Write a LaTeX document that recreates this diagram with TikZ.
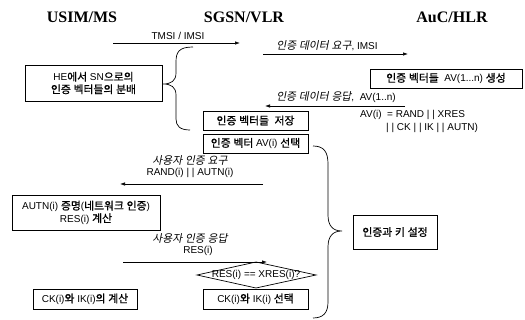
\documentclass[tikz,border=0pt]{standalone}
\usepackage{fontspec}
\setmainfont{Liberation Serif}
\newfontfamily\lat{Liberation Sans}
\newfontfamily\kr[Scale=1.08,FakeBold=1.0]{Noto Sans CJK KR}
\newfontfamily\krit[Scale=1.08,FakeSlant=0.2]{Noto Sans CJK KR}
\newcommand\krsel{\kr}
\XeTeXinterchartokenstate=1
\newXeTeXintercharclass\hgclass
\count255="AC00
\loop\ifnum\count255<"D7A4 \XeTeXcharclass\count255=\hgclass \advance\count255 by 1 \repeat
\XeTeXinterchartoks 0 \hgclass={\krsel}
\XeTeXinterchartoks 4095 \hgclass={\krsel}
\XeTeXinterchartoks \hgclass 0={\lat}
\XeTeXinterchartoks \hgclass 4095={\lat}
\usetikzlibrary{arrows.meta}
\begin{document}
\begin{tikzpicture}[x=1pt,y=-1pt,
  title/.style={font=\fontsize{16}{18}\selectfont\bfseries},
  box/.style={draw,line width=0.7pt,inner sep=1pt,align=center,font=\lat\fontsize{10}{12.5}\selectfont\renewcommand\krsel{\kr}},
  lbl/.style={inner sep=0pt,align=center,font=\lat\fontsize{10}{12.5}\selectfont\renewcommand\krsel{\kr}},
  ilbl/.style={inner sep=0pt,align=center,font=\lat\fontsize{10}{12.5}\selectfont\renewcommand\krsel{\krit}},
  msg/.style={line width=0.7pt,-{Latex[length=5pt,width=3.5pt]}},
  brace/.style={line width=0.7pt}]
\useasboundingbox (0,0) rectangle (525,320);
% titles
\node[title] (t1) at (82,17) {USIM/MS};
\node[title] (t2) at (244,17) {SGSN/VLR};
\node[title] (t3) at (452,17) {AuC/HLR};
% boxes
\node[box,minimum width=137pt,minimum height=36pt] (he) at (93.5,83) {HE에서 SN으로의\\인증 벡터들의 분배};
\node[box,minimum width=152pt,minimum height=19pt] (gen) at (446,78.5) {인증 벡터들\ \ AV(1...n) 생성};
\node[box,minimum width=105pt,minimum height=19pt] (store) at (255.5,120.5) {인증 벡터들\ \ 저장};
\node[box,minimum width=105pt,minimum height=19pt] (sel) at (255.5,143.5) {인증 벡터 AV(i) 선택};
\node[box,minimum width=148pt,minimum height=35pt] (autn) at (86,212.5) {AUTN(i) 증명(네트워크 인증)\\RES(i) 계산};
\node[box,minimum width=104pt,minimum height=20pt] (ckc) at (85,299) {CK(i)와 IK(i)의 계산};
\node[box,minimum width=105pt,minimum height=20pt] (cks) at (255.5,299) {CK(i)와 IK(i) 선택};
\node[box,minimum width=84pt,minimum height=34pt] (aka) at (395,232) {인증과 키 설정};
% messages
\coordinate (m1a) at (113,43); \coordinate (m1b) at (240,43);
\draw[msg] (m1a) -- (m1b);
\node[lbl] (l1) at (178,35.5) {TMSI / IMSI};
\coordinate (m2a) at (263,54); \coordinate (m2b) at (408,54);
\draw[msg] (m2a) -- (m2b);
\node[ilbl] (l2) at (327,46) {인증 데이터 요구, IMSI};
\coordinate (m3a) at (405,106); \coordinate (m3b) at (265,106);
\draw[msg] (m3a) -- (m3b);
\node[ilbl] (l3) at (336,97.5) {인증 데이터 응답,\ \ AV(1..n)};
\node[lbl,anchor=west] (av1) at (360,114.5) {AV(i)\ \ = RAND | | XRES};
\node[lbl,anchor=west] (av2) at (386,127.5) {| | CK | | IK | | AUTN)};
\coordinate (m4a) at (263,184); \coordinate (m4b) at (120,184);
\draw[msg] (m4a) -- (m4b);
\node[ilbl] (l4a) at (190,160) {사용자 인증 요구};
\node[lbl] (l4b) at (190,172.5) {RAND(i) | | AUTN(i)};
\coordinate (m5a) at (123,262); \coordinate (m5b) at (267,262);
\draw[msg] (m5a) -- (m5b);
\node[ilbl] (l5a) at (190,238) {사용자 인증 응답};
\node[lbl] (l5b) at (198,251) {RES(i)};
% diamond
\coordinate (dl) at (197,275); \coordinate (dr) at (316,275);
\coordinate (dt) at (256,262); \coordinate (db) at (256,288);
\draw[line width=0.7pt] (dl) -- (dt) -- (dr) -- (db) -- cycle;
\node[lbl] (cmp) at (256,275) {RES(i) == XRES(i)?};
% left brace
\coordinate (lbt) at (193,47); \coordinate (lbtip) at (163,84); \coordinate (lbb) at (190,130);
\draw[brace] (lbt) .. controls (179,47) and (176,52) .. (176,62) -- (176,73)
  .. controls (176,81) and (171,84) .. (lbtip)
  .. controls (171,84) and (176,87) .. (176,95) -- (176,119)
  .. controls (176,126) and (180,130) .. (lbb);
% right brace
\coordinate (rbt) at (313,146); \coordinate (rbtip) at (342,231); \coordinate (rbb) at (313,318);
\draw[brace] (rbt) .. controls (324,146) and (328,152) .. (328,164) -- (328,215)
  .. controls (328,226) and (333,231) .. (rbtip)
  .. controls (333,231) and (328,236) .. (328,247) -- (328,302)
  .. controls (328,313) and (323,318) .. (rbb);
\end{tikzpicture}
\end{document}
